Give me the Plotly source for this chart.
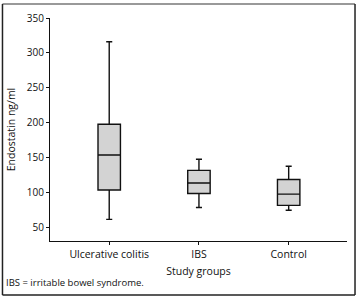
import plotly.graph_objects as go

groups = ["Ulcerative colitis", "IBS", "Control"]
lower_whisker = [62, 79, 75]
q1 = [104, 99, 82]
median = [154, 114, 98]
q3 = [198, 132, 119]
upper_whisker = [316, 148, 138]
y_ticks = [50, 100, 150, 200, 250, 300, 350]

FONT = "Open Sans"
fig = go.Figure()
fig.add_trace(go.Box(
    x=groups, q1=q1, median=median, q3=q3,
    lowerfence=lower_whisker, upperfence=upper_whisker,
    fillcolor="#d3d3d3", line=dict(color="#111111", width=1.4),
    width=0.25, whiskerwidth=0.27, boxpoints=False, showlegend=False,
    hoverinfo="skip",
))

fig.update_layout(
    width=358, height=300,
    margin=dict(l=50, r=11, t=18, b=59),
    paper_bgcolor="white", plot_bgcolor="white",
    font=dict(family=FONT, size=10.5, color="#111111"),
    xaxis=dict(
        range=[-0.66, 2.65], showline=True, linecolor="#111111", linewidth=1,
        ticks="outside", ticklen=3, tickcolor="#111111", showgrid=False,
        zeroline=False, tickfont=dict(size=10.5),
        title=dict(text="Study groups", font=dict(size=10.5), standoff=8),
    ),
    yaxis=dict(
        range=[31, 350], showline=True, linecolor="#111111", linewidth=1,
        ticks="outside", ticklen=3, tickcolor="#111111", showgrid=False,
        zeroline=False, tickvals=y_ticks, tickfont=dict(size=10),
        title=dict(text="Endostatin ng/ml", font=dict(size=10.5), standoff=9),
    ),
)

# outer frame of the figure
fig.add_shape(type="line", xref="paper", yref="paper", x0=-0.16, x1=1.027, y0=1.063, y1=1.063,
              line=dict(color="#777777", width=1.5))
fig.add_shape(type="line", xref="paper", yref="paper", x0=-0.16, x1=-0.16, y0=1.063, y1=-0.242,
              line=dict(color="#222222", width=1.5))
fig.add_shape(type="line", xref="paper", yref="paper", x0=1.027, x1=1.027, y0=1.063, y1=-0.242,
              line=dict(color="#222222", width=1.5))
fig.add_shape(type="line", xref="paper", yref="paper", x0=-0.16, x1=1.027, y0=-0.242, y1=-0.242,
              line=dict(color="#222222", width=1.5))

fig.add_annotation(text="IBS = irritable bowel syndrome.", xref="paper", yref="paper",
                   x=-0.155, y=-0.188, xanchor="left", yanchor="middle", showarrow=False,
                   font=dict(size=9.5, family=FONT))

fig.write_html("out.html", config={"displayModeBar": False},
               post_script="document.body.style.margin='0';document.body.style.overflow='hidden';")
